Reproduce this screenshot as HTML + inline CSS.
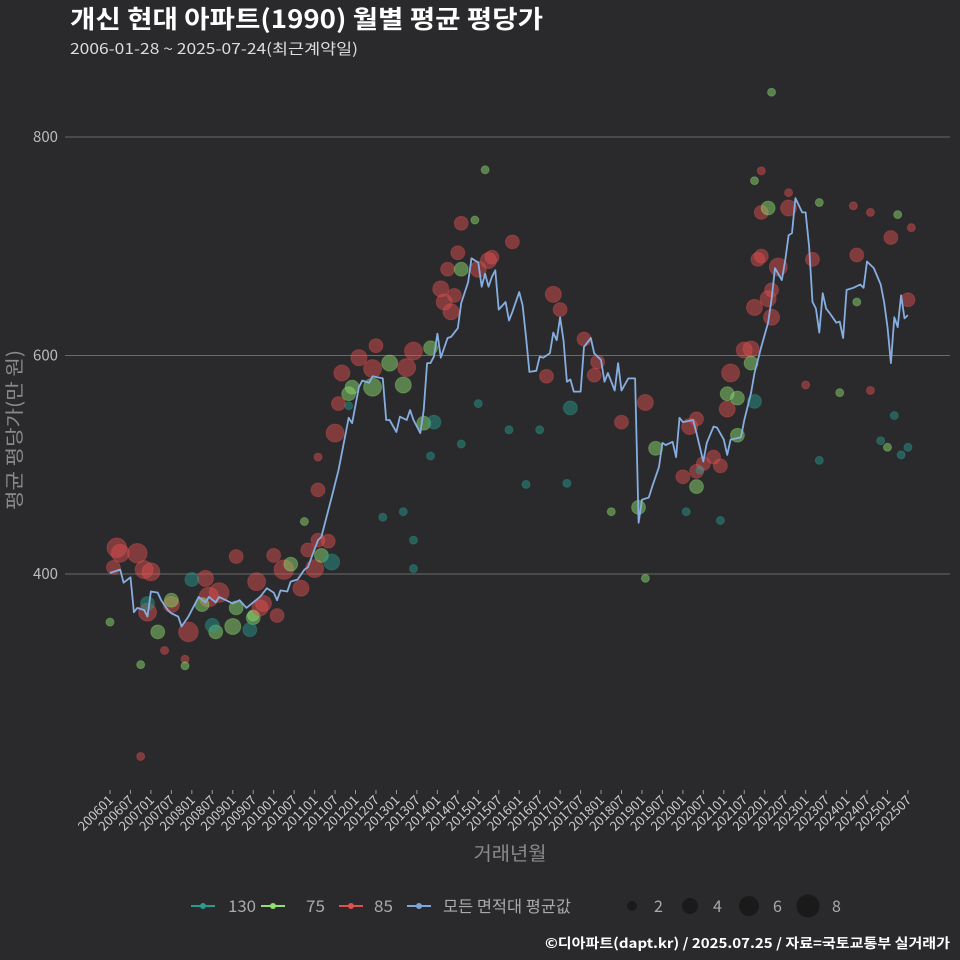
<!DOCTYPE html>
<html><head><meta charset="utf-8">
<style>
html,body{margin:0;padding:0;background:#2a2a2c;}
svg{display:block;font-family:"Noto Sans CJK KR","Liberation Sans",sans-serif;}
</style></head>
<body>
<svg id="chart" width="960" height="960" viewBox="0 0 960 960">
<rect x="0" y="0" width="960" height="960" fill="#2a2a2c"/>
<text x="70" y="28" fill="#ffffff" font-size="25" font-weight="bold" textLength="473" lengthAdjust="spacingAndGlyphs">개신 현대 아파트(1990) 월별 평균 평당가</text>
<text x="70" y="54" fill="#dddddd" font-size="15" textLength="288" lengthAdjust="spacingAndGlyphs">2006-01-28 ~ 2025-07-24(최근계약일)</text>
<g id="grid"></g>
<g id="yticks"></g>
<g id="xticks"></g>
<g id="bubbles"></g>
<g id="avgline"></g>
<text x="0" y="0" transform="translate(21,430) rotate(-90)" text-anchor="middle" fill="#8a8a8a" font-size="19" textLength="160" lengthAdjust="spacingAndGlyphs">평균 평당가(만 원)</text>
<text x="510" y="860" text-anchor="middle" fill="#8a8a8a" font-size="19" textLength="73" lengthAdjust="spacingAndGlyphs">거래년월</text>
<g>
  <g>
    <line x1="191" y1="906" x2="215" y2="906" stroke="#2a9a8e" stroke-width="2"/><circle cx="203" cy="906" r="3" fill="#2a9a8e"/>
    <text x="228" y="912" fill="#aaaaaa" font-size="16" textLength="28" lengthAdjust="spacingAndGlyphs">130</text></g>
  <g>
    <line x1="261" y1="906" x2="285" y2="906" stroke="#8fe070" stroke-width="2"/><circle cx="273" cy="906" r="3" fill="#8fe070"/>
    <text x="306" y="912" fill="#aaaaaa" font-size="16" textLength="19" lengthAdjust="spacingAndGlyphs">75</text></g>
  <g>
    <line x1="339" y1="906" x2="363" y2="906" stroke="#e05050" stroke-width="2"/><circle cx="351" cy="906" r="3" fill="#e05050"/>
    <text x="374" y="912" fill="#aaaaaa" font-size="16" textLength="19" lengthAdjust="spacingAndGlyphs">85</text></g>
  <g>
    <line x1="407" y1="906" x2="431" y2="906" stroke="#7fa6d6" stroke-width="2"/><circle cx="419" cy="906" r="3" fill="#7fa6d6"/>
    <text x="443" y="912" fill="#aaaaaa" font-size="16" textLength="128" lengthAdjust="spacingAndGlyphs">모든 면적대 평균값</text></g>
  <g>
    <circle cx="632" cy="906" r="5" fill="#1a1a1a"/><text x="654" y="912" fill="#aaaaaa" font-size="16">2</text>
    <circle cx="690" cy="906" r="8" fill="#1a1a1a"/><text x="713" y="912" fill="#aaaaaa" font-size="16">4</text>
    <circle cx="749" cy="906" r="10" fill="#1a1a1a"/><text x="773" y="912" fill="#aaaaaa" font-size="16">6</text>
    <circle cx="808" cy="906" r="11.5" fill="#1a1a1a"/><text x="832" y="912" fill="#aaaaaa" font-size="16">8</text>
  </g>
</g>
<text x="950" y="948" text-anchor="end" fill="#ffffff" font-size="13.5" font-weight="bold" textLength="405" lengthAdjust="spacingAndGlyphs">©디아파트(dapt.kr) / 2025.07.25 / 자료=국토교통부 실거래가</text>
</svg>
<script>
// month index counted from 2006-01
const lineMonths=[0,3,4,6,7,8,10,11,12,14,15,17,18,20,21,23,24,26,28,29,31,32,34,36,38,40,42,44,46,48,49,50,52,53,55,57,58,61,62,65,67,70,71,73,74,76,77,80,81,82,84,85,87,88,89,91,92,93,94,95,96,97,99,100,102,103,105,106,108,109,110,111,112,113,114,116,117,118,120,121,122,123,125,126,127,129,130,131,132,133,134,135,136,138,139,141,142,144,145,146,148,149,150,152,154,155,156,158,159,161,162,163,165,166,167,168,171,172,174,175,177,178,180,181,182,185,186,188,189,191,193,194,195,197,198,199,200,201,203,204,205,206,207,208,209,210,211,213,214,215,216,218,220,221,222,224,226,227,228,229,230,231,232,233,234];
const lineValues=[401,404,392,397,365,369,367,361,384,383,376,367,364,361,352,361,367,379,374,379,374,379,376,373,376,369,374,379,387,383,376,385,384,393,395,404,406,431,434,470,495,543,538,571,577,575,581,579,541,541,530,544,541,550,541,529,550,593,593,599,620,598,616,617,625,648,667,689,685,663,675,663,672,678,642,649,632,640,658,646,617,585,586,599,598,602,621,614,635,614,576,578,567,567,608,616,602,596,576,584,568,593,568,579,579,447,468,470,480,498,520,518,521,507,543,539,541,529,503,520,535,534,523,509,523,525,541,566,584,608,630,651,680,669,687,710,712,744,731,731,700,649,643,621,657,643,639,630,631,616,660,662,665,662,686,680,665,649,626,593,635,626,655,634,637,614,631,614,639];
// bubbles: month index, price, trade count, area type
const bubbleMonths=[2,3,8,1,10,12,11,23,18,28,29,32,37,43,45,48,51,56,58,61,60,49,66,68,67,73,77,78,87,89,97,98,100,101,99,102,103,108,111,112,118,130,132,128,139,142,143,82,77,86,71,70,92,94,103,135,95,18,14,31,36,37,42,42,41,24,30,62,65,53,27,11,44,64,61,157,150,172,170,168,172,174,177,179,181,182,186,188,189,194,193,194,196,190,191,191,199,206,219,229,234,193,155,160,172,181,184,184,188,189,0,9,9,22,22,16,57,61,70,80,86,89,89,94,103,108,107,110,117,122,126,134,147,157,169,173,179,194,189,191,199,208,204,208,226,228,232,234,230,223,218,223,235,231,214,219];
const bubbleValues=[424,419,419,406,404,402,365,347,372,396,379,383,416,393,373,417,404,387,422,431,405,362,529,584,556,598,588,609,589,604,661,649,640,655,679,694,721,679,687,690,704,656,642,581,615,582,594,593,571,573,571,565,538,607,679,552,539,376,347,347,352,369,360,362,349,395,353,417,411,409,372,373,369,430,477,557,539,542,535,489,494,501,507,499,551,584,605,606,644,635,652,660,681,688,691,731,735,688,692,708,651,735,461,515,480,565,561,527,593,558,356,317,233,322,316,330,448,507,554,452,457,431,405,508,519,556,724,770,532,482,532,483,457,396,457,495,449,841,760,769,749,740,573,504,522,516,509,516,545,568,737,731,717,729,566,649];
const bubbleCounts=[6,5,6,3,5,5,5,6,4,4,6,6,3,5,4,3,6,4,3,3,5,3,5,4,3,4,5,3,5,5,4,4,4,3,3,3,3,4,4,3,3,4,3,3,3,3,3,4,5,4,3,3,3,3,3,3,3,3,3,3,4,3,3,2,3,3,3,3,4,3,3,3,4,3,3,4,3,3,4,3,3,3,3,3,4,5,4,4,4,4,4,3,5,3,3,3,4,3,3,3,3,3,3,3,3,3,3,3,3,3,1,1,1,1,1,1,1,1,1,1,1,1,1,1,1,1,1,1,1,1,1,1,1,1,1,1,1,1,1,1,1,1,1,1,1,1,1,1,1,1,1,1,1,1,1,1];
const bubbleTypes=["85","85","85","85","85","85","85","85","85","85","85","85","85","85","85","85","85","85","85","85","85","85","85","85","85","85","85","85","85","85","85","85","85","85","85","85","85","85","85","85","85","85","85","85","85","85","85","75","75","75","75","75","75","75","75","130","130","75","75","75","75","75","75","75","130","130","130","75","130","75","75","130","85","85","85","85","85","85","85","85","85","85","85","85","85","85","85","85","85","85","85","85","85","85","85","85","85","85","85","85","85","75","75","75","75","75","75","75","75","130","75","75","85","85","75","85","75","85","130","130","130","130","130","130","130","130","75","75","130","130","130","130","75","75","130","130","130","75","75","85","85","75","85","130","130","75","130","130","130","85","85","85","85","75","75"];
const yTicks=[400,600,800];
const typeColors={"130":"#2a9a8e","75":"#8fe070","85":"#e05050"};

const NS="http://www.w3.org/2000/svg";
function xScale(m){return 110+m*3.41;}
function yScale(v){return 574-(v-400)*1.0925;}
function mk(tag,attrs,parent){const e=document.createElementNS(NS,tag);for(const k in attrs)e.setAttribute(k,attrs[k]);parent.appendChild(e);return e;}

const grid=document.getElementById('grid'),yt=document.getElementById('yticks'),xt=document.getElementById('xticks');
yTicks.forEach(v=>{
  const l=mk('line',{x1:65,x2:950,y1:yScale(v),y2:yScale(v),stroke:'#6a6a6a','stroke-width':1},grid);
  
  
  const t=mk('text',{x:58,y:yScale(v)+5,'text-anchor':'end',fill:'#bbbbbb','font-size':15},yt);
  t.textContent=v;
  
  
});
for(let m=0;m<=234;m+=6){
  const x=xScale(m);
  const yr=2006+Math.floor(m/12),mo=(m%12)+1;
  const lab=yr+(mo<10?'0':'')+mo;
  const tk=mk('line',{x1:x,x2:x,y1:790,y2:794,stroke:'#999','stroke-width':1},xt);
  
  
  const t=mk('text',{x:0,y:0,transform:`translate(${x+4},${801}) rotate(-45)`,'text-anchor':'end',fill:'#cccccc','font-size':13},xt);
  t.textContent=lab;
  
  
}
const bg=document.getElementById('bubbles');
for(let i=0;i<bubbleMonths.length;i++){
  const c=typeColors[bubbleTypes[i]]||"#8fe070";
  const r=Math.sqrt(bubbleCounts[i])*4;
  const b=mk('circle',{cx:xScale(bubbleMonths[i]),cy:yScale(bubbleValues[i]),r:r,fill:c,'fill-opacity':0.48,stroke:c,'stroke-opacity':0.35,'stroke-width':1},bg);
  
  
}
const al=document.getElementById('avgline');
const pts=lineMonths.map((m,i)=>xScale(m).toFixed(1)+','+yScale(lineValues[i]).toFixed(1)).join(' ');
const pl=mk('polyline',{points:pts,fill:'none',stroke:'#86aee0','stroke-width':1.8,'stroke-linejoin':'round'},al);


</script>
</body></html>
